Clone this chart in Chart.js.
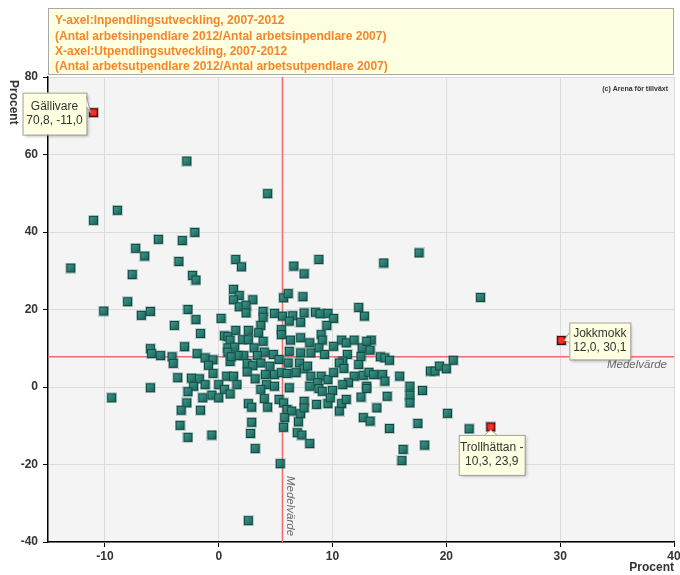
<!DOCTYPE html>
<html>
<head>
<meta charset="utf-8">
<script src="https://cdn.jsdelivr.net/npm/chart.js@4.4.0/dist/chart.umd.min.js"></script>
<style>
  html, body { margin: 0; padding: 0; background: #fff; }
  #wrap { width: 680px; height: 575px; }
</style>
</head>
<body>
<div id="wrap"><canvas id="chart" width="680" height="575"></canvas></div>
<script>
'use strict';

// Utpendlingsutveckling (x) och inpendlingsutveckling (y), procent, en punkt per kommun
const xValues = [
  -2.8, -8.9, -11.0, -2.1, -5.3, -3.2, -7.3, -6.5, -3.5, -13.0, -7.6, -2.3, -2.0, -8.0, -10.1, -6.0, -2.7,
  4.3, 1.5, 2.0, 6.6, 7.5, 1.3, 1.8, 1.3, 3.0, 1.8, 2.4, 2.4, 3.9, 3.9, 4.9, 5.7, 6.1, 7.4, 5.6, 6.5, 7.5,
  7.2, 6.2, -6.8, -2.0, -3.9, -1.6, 0.2, 1.5, 0.5, 2.6, 3.7, 3.5, 5.5, 5.5, 6.3, 7.2, -3.0, -6.0, -5.9,
  -5.1, -4.1, -4.0, -1.9, -1.2, -0.5, -0.9, 0.8, 1.0, 0.8, 1.4, 2.1, 2.6, 3.1, 3.9, 4.0, 3.4, 2.2, 1.7,
  1.0, 0.8, 1.1, 2.5, 3.0, 3.7, 4.5, 4.8, 5.3, 6.1, 6.2, 7.2, 7.1, 7.5, -3.6, -2.4, -1.7, -6.0, -0.5, 0.7,
  1.3, 2.5, 3.2, 4.1, 4.9, 5.5, 6.0, 6.8, 6.2, -1.2, 0.0, 1.6, 4.2, 4.9, -2.2,
  17.6, 14.5, 8.8, 12.3, 12.8, 8.5, 8.9, 9.6, 10.1, 9.5, 9.0, 9.1, 8.0, 8.8, 9.3, 8.1, 7.8, 8.1, 9.0, 9.6,
  10.1, 8.0, 8.7, 10.1, 10.8, 11.2, 11.9, 11.3, 10.9, 10.6, 11.0, 12.6, 13.3, 13.4, 13.0, 12.5, 12.3, 12.7,
  11.9, 11.4, 10.9, 13.2, 13.6, 14.4, 14.6, 13.0, 14.2, 14.6, 15.0, 15.9, 16.8, 17.9, 18.6, 19.0, 19.4,
  20.0, 20.6,
  -2.7, -1.4, -0.6, 0.0, 0.5, 1.0, -2.8, -3.3, -1.6, -3.4, -2.7, -0.6, 2.6, 2.9, 2.9, 2.8, 3.2, 5.4, 2.6,
  3.7, 4.0, 4.3, 5.3, 5.7, 6.0, 6.4, 5.8, 5.7, 7.0, 7.2, 6.9, 7.3, 7.5, 7.5,
  8.8, 9.1, 10.0, 8.0, 8.6, 9.6, 9.8, 10.6, 10.8, 11.2, 12.5, 13.0, 12.7, 13.3, 13.9, 14.8, 15.0, 16.8,
  16.8, 17.5, 18.1, 16.2, 16.1, 20.1, 22.0, -9.4, 23.0
];
const yValues = [
  58.3, 45.6, 43.0, 39.9, 38.1, 37.8, 35.8, 33.8, 32.4, 30.7, 29.0, 28.8, 27.6, 22.0, 19.6, 19.5, 20.0,
  49.9, 32.9, 31.0, 31.2, 29.2, 25.2, 23.6, 22.5, 22.5, 20.7, 21.1, 19.1, 19.5, 18.0, 19.0, 23.0, 24.1, 23.3, 18.3, 18.4, 19.1,
  16.7, 17.0, 18.5, 17.4, 15.9, 13.8, 17.7, 14.6, 13.2, 14.6, 15.9, 14.0, 14.8, 13.5, 12.1, 12.7, 10.4, 9.9, 8.6,
  8.1, 7.8, 6.1, 8.6, 7.5, 7.0, 5.6, 13.0, 12.1, 10.1, 10.3, 12.2, 12.2, 10.1, 11.8, 9.0, 8.1, 8.1, 8.1,
  6.6, 9.0, 7.8, 6.1, 5.5, 6.2, 5.4, 8.4, 7.1, 6.2, 9.2, 8.8, 6.2, 4.7, 2.4, 2.3, 2.1, -0.2, 3.5, 2.8,
  2.8, 3.9, 2.1, 3.2, 3.2, 3.7, 3.5, 3.7, -0.2, 0.6, 0.6, 0.6, 0.6, 0.2, 0.2,
  34.6, 32.0, 32.9, 20.5, 18.3, 19.3, 18.9, 19.0, 17.7, 15.9, 13.5, 12.1, 11.4, 10.1, 8.4, 8.8, 5.4, 2.8, 2.8, 1.9,
  3.7, 0.2, 1.1, 10.5, 12.1, 11.4, 12.1, 8.4, 6.7, 6.2, 4.8, 10.1, 9.5, 12.1, 11.8, 7.9, 5.8, 3.0,
  2.8, 1.1, 0.6, 3.8, 3.2, 3.2, 1.5, 0.2, 7.8, 7.5, 6.9, 2.8, 0.2, -0.9, 4.1, 4.1, 5.4,
  4.7, 6.9,
  -1.2, -2.8, -2.1, -2.8, -0.6, -1.8, -4.1, -6.0, -6.0, -9.9, -13.0, -12.4, -4.3, -5.2, -9.1, -12.0, -15.9, -19.8, -34.5,
  -0.6, -3.0, -5.2, -3.2, -4.1, -5.8, -6.2, -7.9, -10.4, -9.0, -6.9, -11.8, -12.4, -3.7, -5.4,
  -0.4, -1.1, -0.9, -14.6, -4.5, -4.3, -2.8, -6.2, -4.3, -3.2, -2.6, -0.4, -7.9, -8.8, -5.4, -2.4, -10.7, -2.1,
  -4.1, -9.4, -15.0, -16.1, -19.0, -6.8, -10.8, -2.8, 23.1
];

// Markerade kommuner
const markedNames = ['Gällivare', 'Jokkmokk', 'Trollhättan'];
const markedX = [-11.0, 30.1, 23.9];
const markedY = [70.8, 12.0, -10.3];
const markedLines = [['Gällivare', '70,8, -11,0'], ['Jokkmokk', '12,0, 30,1'], ['Trollhättan -', '10,3, 23,9']];

const meanX = 5.6;
const meanY = 7.8;

const xTicks = [-10, 0, 10, 20, 30, 40];
const yTicks = [-40, -20, 0, 20, 40, 60, 80];

const titleLines = [
  'Y-axel:Inpendlingsutveckling, 2007-2012',
  '(Antal arbetsinpendlare 2012/Antal arbetsinpendlare 2007)',
  'X-axel:Utpendlingsutveckling, 2007-2012',
  '(Antal arbetsutpendlare 2012/Antal arbetsutpendlare 2007)'
];

const FONT = 'Arial, "Liberation Sans", sans-serif';

function squareSprite(light, dark, edge, dot) {
  const c = document.createElement('canvas');
  c.width = 11; c.height = 11;
  const g = c.getContext('2d');
  g.fillStyle = 'rgba(70,130,120,0.3)';
  g.fillRect(0, 0, 11, 11);
  g.fillStyle = edge;
  g.fillRect(1, 1, 9, 9);
  const grad = g.createLinearGradient(2, 2, 9, 9);
  grad.addColorStop(0, light);
  grad.addColorStop(1, dark);
  g.fillStyle = grad;
  g.fillRect(2, 2, 7, 7);
  if (dot) {
    g.fillStyle = dot;
    g.beginPath();
    g.arc(5.5, 5.5, 3, 0, Math.PI * 2);
    g.fill();
  }
  return c;
}

const tealPoint = squareSprite('#3d958a', '#1d675d', '#0c473f');
const redPoint = squareSprite('#e02020', '#b01010', '#4a0808', '#ff2a2a');

// placering av pratbubblor relativt punkten: [dx, dy, bredd, höjd, pekare]
const callouts = [
  [-71, -20, 64, 42, 'right'],
  [8, -18, 61, 37, 'left'],
  [-32, 8, 66, 40, 'top']
];

function drawCallout(ctx, px, py, c, lines) {
  const x = px + c[0], y = py + c[1], w = c[2], h = c[3];
  let tri;
  if (c[4] === 'right') tri = [[x + w, y + 4], [px - 3, py], [x + w, y + 14]];
  else if (c[4] === 'left') tri = [[x, y + 10], [px + 3, py], [x, y + 20]];
  else tri = [[px - 6, y], [px, py + 3], [px + 6, y]];
  ctx.save();
  ctx.shadowColor = 'rgba(0,0,0,0.25)';
  ctx.shadowBlur = 3;
  ctx.shadowOffsetX = 2;
  ctx.shadowOffsetY = 2;
  ctx.fillStyle = '#ffffe1';
  ctx.fillRect(x, y, w, h);
  ctx.restore();
  ctx.save();
  ctx.fillStyle = '#ffffe1';
  ctx.strokeStyle = '#a0a0a0';
  ctx.lineWidth = 1;
  ctx.strokeRect(x + 0.5, y + 0.5, w, h);
  ctx.beginPath();
  ctx.moveTo(tri[0][0], tri[0][1]);
  ctx.lineTo(tri[1][0], tri[1][1]);
  ctx.lineTo(tri[2][0], tri[2][1]);
  ctx.closePath();
  ctx.fill();
  ctx.beginPath();
  ctx.moveTo(tri[0][0], tri[0][1]);
  ctx.lineTo(tri[1][0], tri[1][1]);
  ctx.lineTo(tri[2][0], tri[2][1]);
  ctx.stroke();
  ctx.fillStyle = '#333';
  ctx.font = '12px ' + FONT;
  ctx.textAlign = 'center';
  ctx.textBaseline = 'middle';
  ctx.fillText(lines[0], x + w / 2, y + h / 2 - 7);
  ctx.fillText(lines[1], x + w / 2, y + h / 2 + 7);
  ctx.restore();
}

const decor = {
  id: 'decor',
  beforeDraw(chart) {
    const ctx = chart.ctx, a = chart.chartArea;
    ctx.save();
    ctx.fillStyle = '#fff';
    ctx.fillRect(0, 0, chart.width, chart.height);
    ctx.fillStyle = '#f4f4f4';
    ctx.fillRect(a.left, a.top, a.right - a.left, a.bottom - a.top);
    ctx.restore();
  },
  beforeDatasetsDraw(chart) {
    const ctx = chart.ctx, a = chart.chartArea;
    const mx = chart.scales.x.getPixelForValue(meanX);
    const my = chart.scales.y.getPixelForValue(meanY);
    ctx.save();
    ctx.strokeStyle = '#f26a6a';
    ctx.lineWidth = 1.5;
    ctx.beginPath();
    ctx.moveTo(a.left, my); ctx.lineTo(a.right, my);
    ctx.moveTo(mx, a.top); ctx.lineTo(mx, a.bottom);
    ctx.stroke();
    ctx.fillStyle = '#666';
    ctx.font = 'italic 11.5px ' + FONT;
    ctx.textAlign = 'right';
    ctx.textBaseline = 'middle';
    ctx.fillText('Medelvärde', a.right - 7, my + 8);
    ctx.translate(mx + 8, a.bottom - 66);
    ctx.rotate(Math.PI / 2);
    ctx.textAlign = 'left';
    ctx.fillText('Medelvärde', 0, 0);
    ctx.restore();
  },
  afterDraw(chart) {
    const ctx = chart.ctx, a = chart.chartArea;
    ctx.save();
    // rubrikruta
    ctx.fillStyle = '#ffffe1';
    ctx.fillRect(a.left, 8, a.right - a.left, 67);
    ctx.strokeStyle = '#a8a8a8';
    ctx.lineWidth = 1;
    ctx.strokeRect(a.left + 0.5, 8.5, a.right - a.left - 1, 66);
    ctx.fillStyle = '#f6862a';
    ctx.font = 'bold 12px ' + FONT;
    ctx.textAlign = 'left';
    ctx.textBaseline = 'middle';
    titleLines.forEach((t, i) => ctx.fillText(t, a.left + 7, 21 + i * 15.2));
    // copyright
    ctx.fillStyle = '#333';
    ctx.font = 'bold 7px ' + FONT;
    ctx.textAlign = 'right';
    ctx.fillText('(c) Arena för tillväxt', a.right - 6, 89);
    // y-axelns titel
    ctx.font = 'bold 12px ' + FONT;
    ctx.textAlign = 'left';
    ctx.fillStyle = '#333';
    ctx.translate(13, 80);
    ctx.rotate(Math.PI / 2);
    ctx.fillText('Procent', 0, 0);
    ctx.restore();
    // pratbubblor
    markedX.forEach((v, i) => {
      const px = chart.scales.x.getPixelForValue(v);
      const py = chart.scales.y.getPixelForValue(markedY[i]);
      drawCallout(ctx, px, py, callouts[i], markedLines[i]);
    });
  }
};

const ctx = document.getElementById('chart').getContext('2d');

const myChart = new Chart(ctx, {
  type: 'scatter',
  data: {
    datasets: [{
      label: 'Kommuner',
      data: xValues.map((x, i) => ({ x: x, y: yValues[i] })),
      pointStyle: tealPoint,
      pointRadius: 5
    }, {
      label: 'Markerade',
      data: markedX.map((x, i) => ({ x: x, y: markedY[i], name: markedNames[i] })),
      pointStyle: redPoint,
      pointRadius: 5
    }]
  },
  options: {
    responsive: false,
    animation: false,
    devicePixelRatio: 1,
    layout: { padding: { top: 77, right: 2, left: 0, bottom: 0 } },
    plugins: {
      legend: { display: false },
      tooltip: { enabled: false },
      title: { display: false }
    },
    scales: {
      x: {
        type: 'linear',
        min: -15,
        max: 40,
        afterBuildTicks: s => { s.ticks = xTicks.map(v => ({ value: v })); },
        afterFit: s => { s.height = 33; s.paddingLeft = 0; s.paddingRight = 0; },
        grid: { color: '#dcdcdc', tickColor: '#000', tickLength: 5 },
        border: { color: '#000', width: 1.5 },
        ticks: { color: '#333', font: { family: FONT, size: 12, weight: 'bold' }, padding: 2, maxRotation: 0 },
        title: { display: true, text: 'Procent', align: 'end', color: '#333',
                 font: { family: FONT, size: 12, weight: 'bold' }, padding: 0 }
      },
      y: {
        type: 'linear',
        min: -40,
        max: 80,
        afterBuildTicks: s => { s.ticks = yTicks.map(v => ({ value: v })); },
        afterFit: s => { s.width = 48; s.paddingTop = 0; s.paddingBottom = 0; },
        grid: { color: '#dcdcdc', tickColor: '#000', tickLength: 5 },
        border: { color: '#000', width: 1.5 },
        ticks: { color: '#333', font: { family: FONT, size: 12, weight: 'bold' }, padding: 5 }
      }
    }
  },
  plugins: [decor]
});
</script>
</body>
</html>
